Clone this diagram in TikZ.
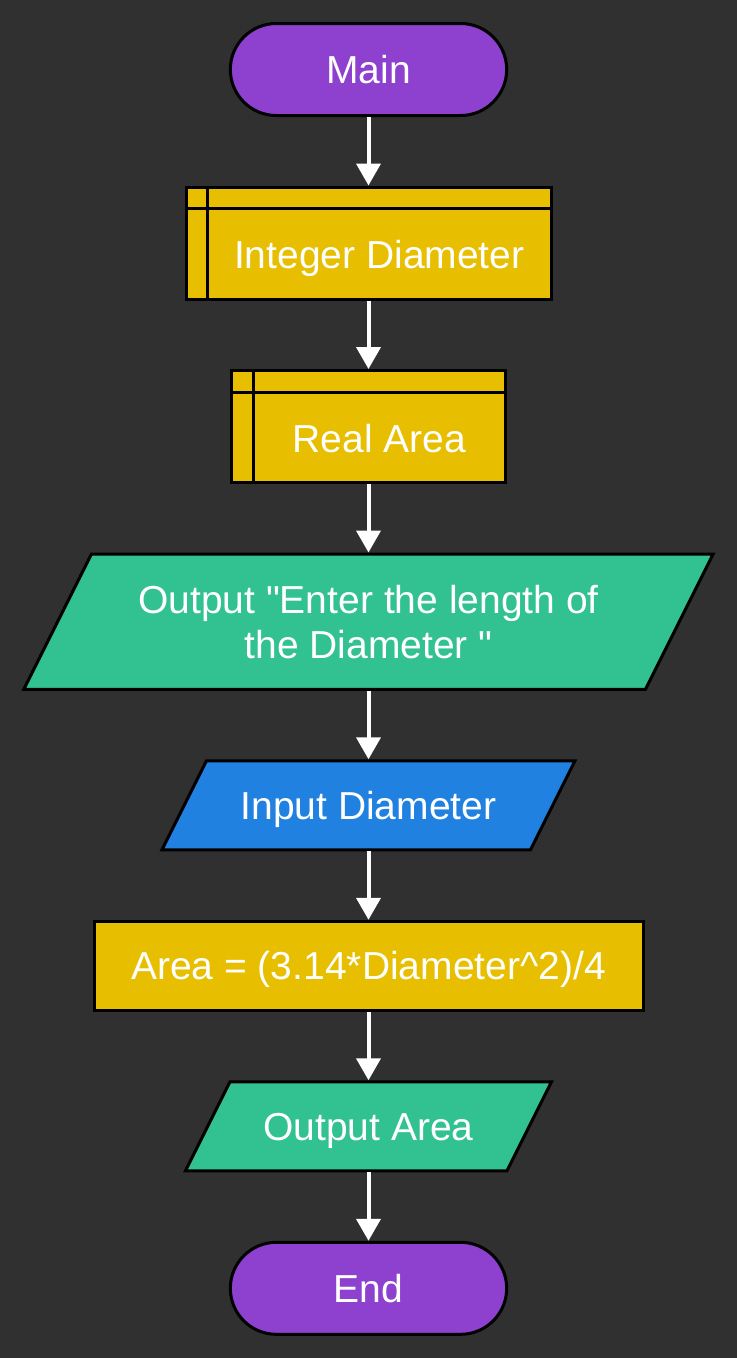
\documentclass[tikz,border=0pt]{standalone}
\usepackage{fontspec}
\setmainfont{Liberation Sans}
\usepackage{tikz}
\usetikzlibrary{shapes.misc, shapes.geometric, positioning}
\usetikzlibrary{arrows.meta}
\tikzset{>={Triangle[width=24pt,length=22pt]}}
\definecolor{bgcol}{HTML}{303030}
\definecolor{termcol}{HTML}{8E40CE}
\definecolor{declcol}{HTML}{E8BE00}
\definecolor{outcol}{HTML}{32C190}
\definecolor{incol}{HTML}{2181E0}

\begin{document}
\begin{tikzpicture}[x=1pt, y=1pt, node distance=68.5pt, base/.style={draw=black, line width=3pt, text=white, font=\fontsize{39}{45}\selectfont}, capline/.style={text height=28pt, text depth=0pt}, term/.style={base, capline, rounded rectangle, fill=termcol, minimum width=283pt, minimum height=92pt}, decl/.style={base, rectangle, fill=declcol, minimum height=112pt, text height=51pt, text depth=0pt, execute at begin node=\hspace*{21.5pt}, path picture={\draw[black, line width=3pt] ([xshift=21.5pt]path picture bounding box.north west) -- ([xshift=21.5pt]path picture bounding box.south west) ([yshift=-21.5pt]path picture bounding box.north west) -- ([yshift=-21.5pt]path picture bounding box.north east);}}, proc/.style={base, capline, rectangle, fill=declcol, minimum height=89pt}, io/.style={base, trapezium, trapezium left angle=63.43, trapezium right angle=116.57, inner xsep=0pt, inner ysep=30.5pt, align=flush center}, flow/.style={white, line width=4pt}]

    \useasboundingbox (0,0) rectangle (737,-1358);
    \fill[bgcol] (0,0) rectangle (737,-1358);

    %Nodes
    \node[term](main) at (368.5,-69.5){Main};
    \node[decl, minimum width=365pt](intdecl)[below=of main]{Integer Diameter};
    \node[decl, minimum width=274pt](realdecl)[below=of intdecl]{Real Area};
    \node[io, fill=outcol, text width=554pt, inner ysep=30.8pt](askout)[below=of realdecl]{Output \textquotedbl Enter the length of\\ the Diameter \textquotedbl};
    \node[io, capline, fill=incol, text width=324pt](diamin)[below=of askout]{Input Diameter};
    \node[proc, minimum width=549pt](calcarea)[below=of diamin]{Area = (3.14*Diameter\textasciicircum 2)/4};
    \node[io, capline, fill=outcol, text width=277pt](areaout)[below=of calcarea]{Output Area};
    \node[term](finish)[below=of areaout]{End};

    %Lines
    \draw[->, flow] (main.south) -- (intdecl.north);
    \draw[->, flow] (intdecl.south) -- (realdecl.north);
    \draw[->, flow] (realdecl.south) -- (askout.north);
    \draw[->, flow] (askout.south) -- (diamin.north);
    \draw[->, flow] (diamin.south) -- (calcarea.north);
    \draw[->, flow] (calcarea.south) -- (areaout.north);
    \draw[->, flow] (areaout.south) -- (finish.north);

\end{tikzpicture}
\end{document}
